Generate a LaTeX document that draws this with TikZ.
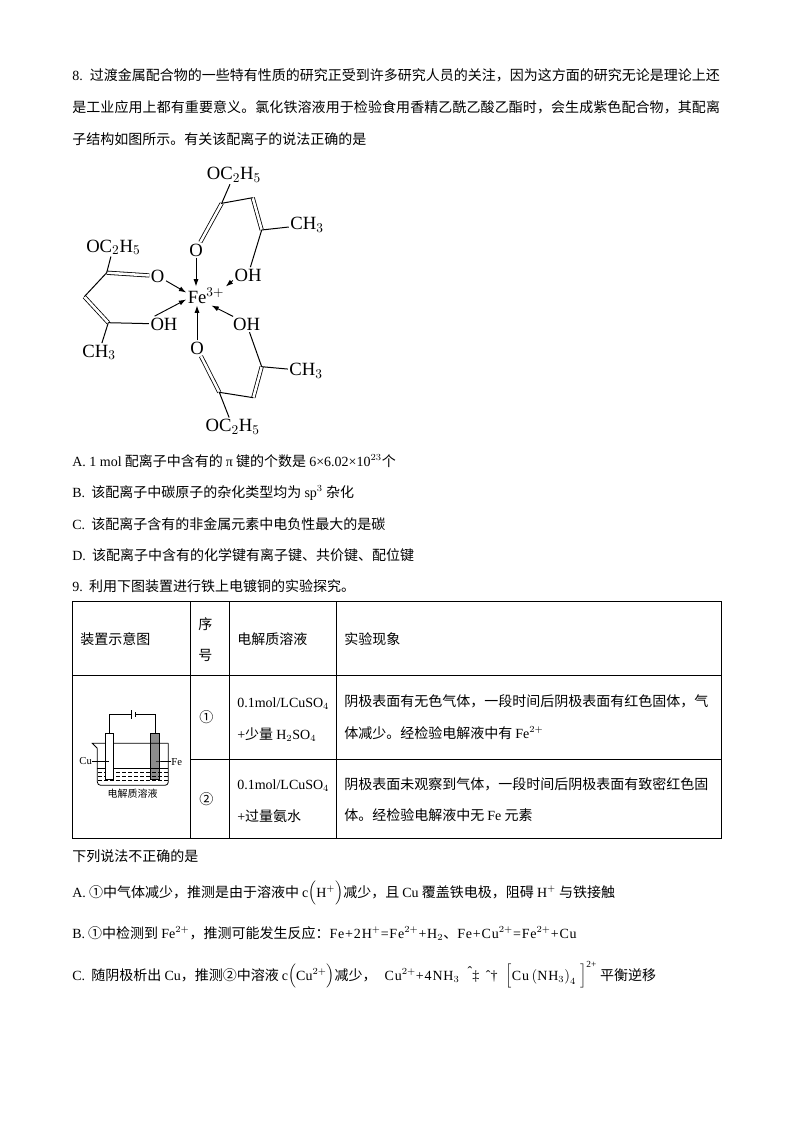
\documentclass[tikz,border=0pt]{standalone}
\usepackage{fontspec}
\usetikzlibrary{arrows.meta}
\setmainfont{Noto Sans CJK SC}
\newfontfamily\latinfont{Liberation Serif}
\colorlet{mygray}{black!45}
\newcommand{\lat}[1]{{\latinfont #1}}
\newcommand{\latw}[1]{{\latinfont\addfontfeature{LetterSpace=6}#1}}
\newcommand{\paren}[1]{$\left(\mbox{\lat{#1}}\vphantom{\Big|}\right)$}
\begin{document}
\begin{tikzpicture}[x=.75pt,y=-.75pt]
\tikzset{txt/.style={anchor=base west,inner sep=0,font=\fontsize{10.5}{12}\selectfont}}
\tikzset{atom/.style={inner sep=1pt,font=\latinfont\fontsize{14}{16}\selectfont}}
\tikzset{bond/.style={line width=.75pt}}
\tikzset{dbl/.style={double,double distance=1.9pt,line width=.6pt}}
\tikzset{arr/.style={-{Latex[length=5.5pt,width=3.8pt]},line width=.7pt}}
\tikzset{rule/.style={line width=.7pt}}
\tikzset{small/.style={font=\latinfont\fontsize{8}{9}\selectfont,inner sep=0}}
\useasboundingbox (0,0) rectangle (794,1123);
\fill[white] (0,0) rectangle (794,1123);
\node[txt] (q8a) at (72,81) {\lat{8.}\hspace{2.25pt} 过渡金属配合物的一些特有性质的研究正受到许多研究人员的关注，因为这方面的研究无论是理论上还};
\node[txt] (q8b) at (72,113) {\addfontfeature{LetterSpace=.6}是工业应用上都有重要意义。氯化铁溶液用于检验食用香精乙酰乙酸乙酯时，会生成紫色配合物，其配离};
\node[txt] (q8c) at (72,145) {子结构如图所示。有关该配离子的说法正确的是};
\node[atom] (fe) at (206,296) {Fe$^{3+}$};
\node[atom] (otop) at (196,250) {O};
\node[atom] (ohtop) at (248,275) {OH};
\node[atom] (oettop) at (234,175) {OC$_2$H$_5$};
\node[atom] (metop) at (307,225) {CH$_3$};
\coordinate (c1top) at (221.7,203.3);
\coordinate (c2top) at (252.7,197.7);
\coordinate (c3top) at (261.7,230);
\draw[dbl] (c1top) -- (otop);
\draw[dbl] (c2top) -- (c3top);
\draw[bond] (oettop) -- (c1top) -- (c2top);
\draw[bond] (c3top) -- (metop);
\draw[bond] (c3top) -- (ohtop);
\node[atom] (olft) at (157.7,276) {O};
\node[atom] (ohlft) at (164,324) {OH};
\node[atom] (oetlft) at (113.3,247.3) {OC$_2$H$_5$};
\node[atom] (melft) at (99,352.3) {CH$_3$};
\coordinate (c1lft) at (106.7,272.7);
\coordinate (c2lft) at (84.3,296.7);
\coordinate (c3lft) at (108.3,322.7);
\draw[dbl] (c1lft) -- (olft);
\draw[dbl] (c2lft) -- (c3lft);
\draw[bond] (oetlft) -- (c1lft) -- (c2lft);
\draw[bond] (c3lft) -- (melft);
\draw[bond] (c3lft) -- (ohlft);
\node[atom] (obot) at (197,348.3) {O};
\node[atom] (ohbot) at (246.7,324.3) {OH};
\node[atom] (oetbot) at (232.7,426.7) {OC$_2$H$_5$};
\node[atom] (mebot) at (306,370.7) {CH$_3$};
\coordinate (c1bot) at (219.3,392.3);
\coordinate (c2bot) at (253.3,397.7);
\coordinate (c3bot) at (261.7,366.7);
\draw[dbl] (c1bot) -- (obot);
\draw[dbl] (c2bot) -- (c3bot);
\draw[bond] (oetbot) -- (c1bot) -- (c2bot);
\draw[bond] (c3bot) -- (mebot);
\draw[bond] (c3bot) -- (ohbot);
\draw[arr] (otop.south) -- (otop.south |- fe.north);
\draw[arr] (obot.north) -- (obot.north |- fe.south);
\draw[arr] (olft) -- (fe.170);
\draw[arr] (ohlft.140) -- (fe.190);
\draw[arr] (ohtop.200) -- (fe.north east);
\draw[arr] (ohbot.150) -- (fe.300);
\node[txt] (ansa) at (72,466) {\lat{A. 1 mol} 配离子中含有的 \lat{π} 键的个数是 \lat{6×6.02×10$^{23}$}个};
\node[txt] (ansb) at (72,497) {\lat{B.}\ \ 该配离子中碳原子的杂化类型均为 \lat{sp$^3$} 杂化};
\node[txt] (ansc) at (72,529) {\lat{C.}\ \ 该配离子含有的非金属元素中电负性最大的是碳};
\node[txt] (ansd) at (72,560) {\lat{D.}\ \ 该配离子中含有的化学键有离子键、共价键、配位键};
\node[txt] (q9) at (72,591) {\lat{9.}\ \ 利用下图装置进行铁上电镀铜的实验探究。};
\draw[rule] (72,601) rectangle (721,838);
\draw[rule] (72,675) -- (721,675);
\draw[rule] (190,759) -- (721,759);
\foreach \xcol in {190,229,336} \draw[rule] (\xcol,601) -- (\xcol,838);
\node[txt] (h1) at (80,644) {装置示意图};
\node[txt] (h2a) at (198,629) {序};
\node[txt] (h2b) at (198,660) {号};
\node[txt] (h3) at (237,644) {电解质溶液};
\node[txt] (h4) at (344,644) {实验现象};
\node[txt] (n1) at (199,722) {①};
\node[txt] (n2) at (199,804) {②};
\node[txt] (sola) at (237,707) {\lat{0.1mol/LCuSO$_4$}};
\node[txt] (solb) at (237,739) {\lat{+}少量 \lat{H$_2$SO$_4$}};
\node[txt] (solc) at (237,789) {\lat{0.1mol/LCuSO$_4$}};
\node[txt] (sold) at (237,821) {\lat{+}过量氨水};
\node[txt] (obsa) at (344,706) {阴极表面有无色气体，一段时间后阴极表面有红色固体，气};
\node[txt] (obsb) at (344,738) {体减少。经检验电解液中有 \lat{Fe$^{2+}$}};
\node[txt] (obsc) at (344,789) {阴极表面未观察到气体，一段时间后阴极表面有致密红色固};
\node[txt] (obsd) at (344,820) {体。经检验电解液中无 \lat{Fe} 元素};
\begin{scope}[shift={(70,680)},x=.25pt,y=-.25pt]
\fill[mygray] (242,160) rectangle (268,299);
\draw[line width=.6pt,rounded corners=2.5pt] (295,190) -- (295,316) -- (82,316) -- (82,205);
\draw[line width=.6pt] (82,205) -- (67,190) -- (295,190);
\draw[line width=.5pt] (82,266) -- (295,266);
\foreach \yrow in {278,290,302} \draw[line width=.3pt,dash pattern=on 3pt off 1.5pt] (84,\yrow) -- (293,\yrow);
\draw[line width=.6pt,fill=white] (106,160) rectangle (131,299);
\draw[line width=.6pt] (242,160) rectangle (268,299);
\draw[line width=.5pt] (118,160) -- (118,103) -- (183,103);
\draw[line width=.5pt] (195,103) -- (255,103) -- (255,160);
\draw[line width=.7pt] (183,90) -- (183,118);
\draw[line width=.7pt] (195,97) -- (195,110);
\node[small] (cu) at (47,244) {Cu};
\node[small] (fecell) at (320,245) {Fe};
\draw[line width=.5pt] (cu) -- (117,244);
\draw[line width=.5pt] (258,244) -- (fecell);
\node[inner sep=0,font=\fontsize{7.5}{9}\selectfont] (elec) at (188,340) {电解质溶液};
\end{scope}
\node[txt] (q) at (72,861) {下列说法不正确的是};
\node[txt] (a) at (72,897) {\lat{A.} ①中气体减少，推测是由于溶液中 \lat{c}\paren{H$^+$}减少，且 \lat{Cu} 覆盖铁电极，阻碍 \lat{H$^+$} 与铁接触};
\node[txt] (b) at (72,938) {\lat{B.} ①中检测到 \lat{Fe$^{2+}$}，推测可能发生反应：\latw{Fe+2H$^+$=Fe$^{2+}$+H$_2$}、\latw{Fe+Cu$^{2+}$=Fe$^{2+}$+Cu}};
\node[txt] (c) at (72,980) {\lat{C.}\ \ 随阴极析出 \lat{Cu}，推测②中溶液 \lat{c}\paren{Cu$^{2+}$}减少，\hspace{6pt}\latw{Cu$^{2+}$+4NH$_3$}\hspace{6pt}\lat{\raisebox{3pt}{ˆ}‡\hspace{5pt}ˆ†}\hspace{6pt}$\left[\mbox{\latw{Cu\hspace{2pt}$\left(\mbox{\latw{NH$_3$}}\right)_4$}}\vphantom{\Big|}\hspace{3pt}\right]^{\mbox{\scriptsize\lat{2+}}}$ 平衡逆移};
\end{tikzpicture}
\end{document}
